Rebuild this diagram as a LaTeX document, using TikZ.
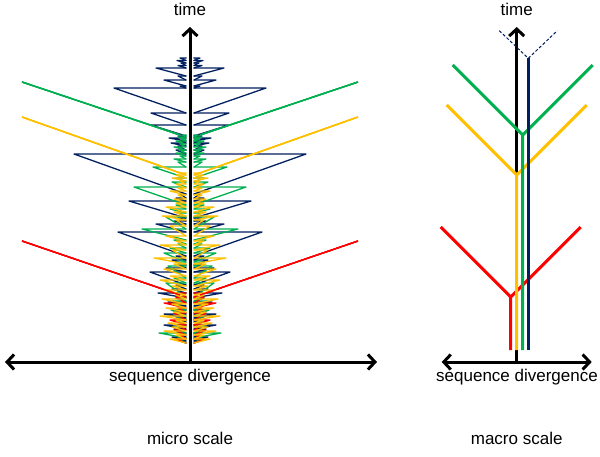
\documentclass[tikz,border=0pt]{standalone}
\usepackage{fontspec}
\setmainfont{Liberation Sans}
\usepackage{xcolor}
\usepackage{tikz}
\usetikzlibrary{arrows.meta}
\definecolor{navy}{HTML}{002060}
\definecolor{leaf}{HTML}{00B050}
\definecolor{gold}{HTML}{FFC000}
\definecolor{signal}{HTML}{FF0000}
\tikzset{
  every node/.style={font=\fontsize{17}{20}\selectfont},
  ax/.style={line width=3pt,black},
  axtip/.tip={Straight Barb[length=7pt,width=15pt]},
  tooth/.style={line width=1.3pt,line join=round,line cap=round},
  branch/.style={line width=1.3pt},
  lineage/.style={line width=3pt},
}
\begin{document}
\begin{tikzpicture}[x=1pt,y=-1pt]
  \useasboundingbox[fill=white] (0,0) rectangle (600,457);
  \def\ax{190}\def\g{4}
  % micro scale: zigzag teeth of each lineage
  \foreach \col/\yo/\teeth in {
    navy/58/{58/6,60.5/9,63/5,65.5/8,68/30,76/8,80/22,86/6,88/72,113/35,125/35,136/8,138/17,141/6,143/15,146/8,150/10,154/112,194/6,198/10,201/57,218/8,221/12,224/30,232/68,256/10,260/14,265/8,268/20,272/36,285/10,289/14,293/28,298/10,302/18,306/8,310/14,314/22,318/10,322/8,325/22,329/12,333/8,337/14,341/6,343/0},
    leaf/135/{135/4,137/8,139/5,141/10,144/6,147/12,150/7,153/10,156/6,159/12,162/8,167/33,178/10,182/14,187/52,205/10,209/16,213/8,217/20,229/44,240/12,244/8,248/16,253/22,262/10,266/18,278/12,283/20,297/10,301/14,310/15,316/10,320/8,327/12,333/27,338/8,343/0},
    signal/293/{293/6,297/10,303/22,308/8,313/12,320/16,325/8,330/12,335/6,339/10,343/0},
    gold/173/{173/6,175/10,178/14,181/6,184/10,188/8,191/16,195/8,199/12,203/10,207/20,212/12,216/24,220/10,226/16,236/20,241/10,245/26,250/14,258/32,264/12,269/22,276/16,280/26,286/14,290/22,295/10,299/24,304/14,308/20,312/12,316/26,320/10,323/18,327/14,331/22,335/10,339/16,343/0}}
    \foreach \y/\w [remember=\y as \ly (initially \yo),remember=\w as \lw (initially 0)] in \teeth {
      \draw[tooth,\col] (\ax-\g,\ly) -- (\ax-\g-\lw,\ly) -- (\ax-\g,\y);
      \draw[tooth,\col] (\ax+\g,\ly) -- (\ax+\g+\lw,\ly) -- (\ax+\g,\y);
    }
  \foreach \col/\ys/\ye/\xe in {leaf/82/135/180,gold/117/174/183,signal/241/295/180} {
    \draw[branch,\col] (22,\ys) -- (\xe,\ye);
    \draw[branch,\col] (358,\ys) -- (380-\xe,\ye);
  }
  \coordinate (mO) at (190,362);
  \coordinate (mT) at (190,27);
  \coordinate (mL) at (5,362);
  \coordinate (mR) at (377,362);
  \draw[ax,-{axtip}] (mO) -- (mT);
  \draw[ax,{axtip}-{axtip}] (mL) -- (mR);
  \node[anchor=base] (mtime) at (190,16) {time};
  \node[anchor=base] (mdiv) at (190,381) {sequence divergence};
  \node[anchor=base] (micro) at (190,444) {micro scale};
  % macro scale
  \coordinate (MO) at (516.7,362);
  \coordinate (MT) at (516.7,27);
  \coordinate (ML) at (441.7,362);
  \coordinate (MR) at (591.7,362);
  \draw[ax,-{axtip}] (MO) -- (MT);
  \draw[ax,{axtip}-{axtip}] (ML) -- (MR);
  \foreach \col/\x/\apex in {signal/510.7/297,gold/516.7/175,leaf/522.7/135}
    \draw[lineage,\col] (\x-70,\apex-70) -- (\x,\apex) -- (\x+70,\apex-70) (\x,\apex) -- (\x,350);
  \draw[lineage,navy] (528.3,350) -- (528.3,58.3);
  \draw[navy,line width=1pt,dash pattern=on 3pt off 2pt] (499.3,30.7) -- (528.3,58.3) -- (557.3,30.7);
  \node[anchor=base] (Mtime) at (516.7,16) {time};
  \node[anchor=base] (Mdiv) at (517,381) {sequence divergence};
  \node[anchor=base] (macro) at (516.7,444) {macro scale};
\end{tikzpicture}
\end{document}
